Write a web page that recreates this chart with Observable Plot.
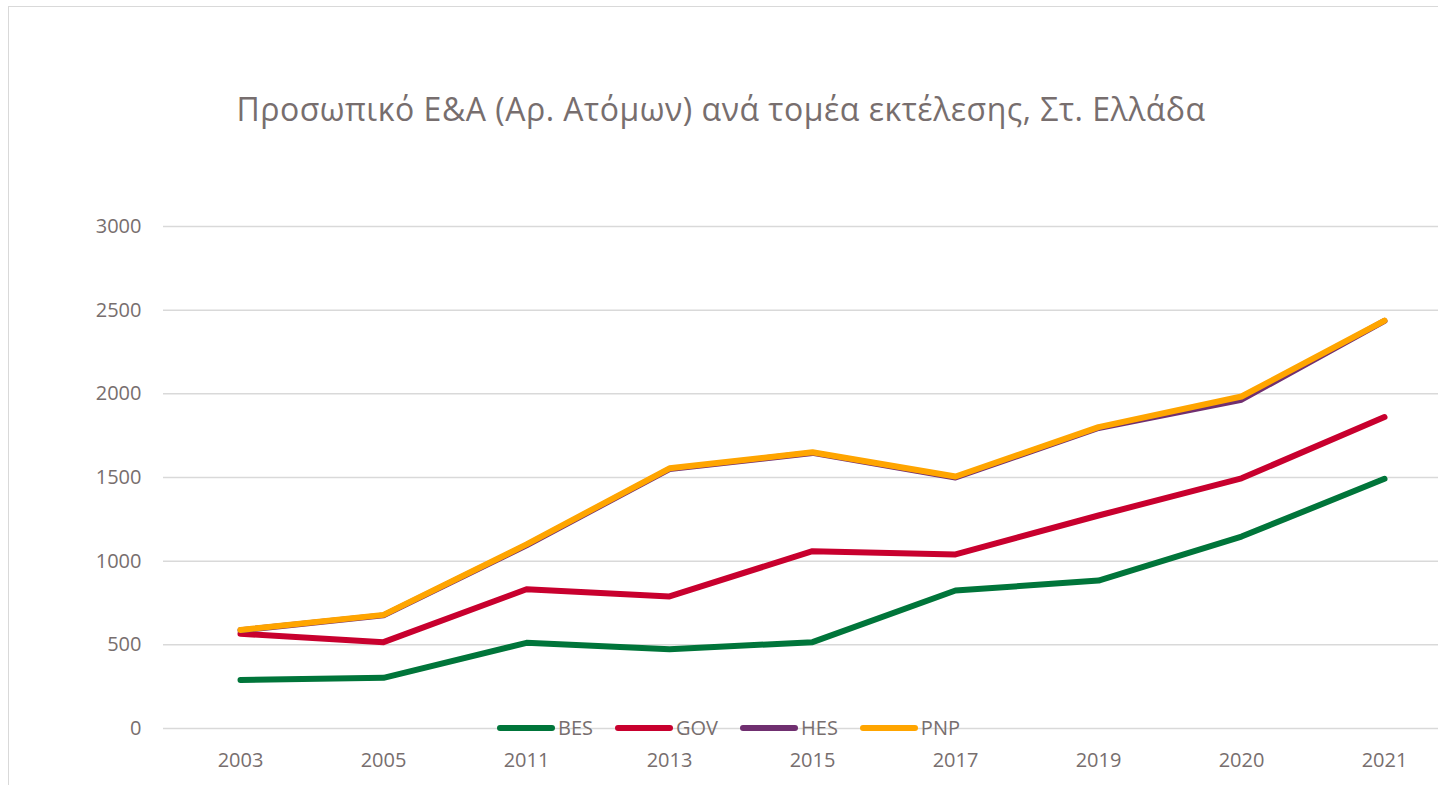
<!DOCTYPE html>
<html>
<head>
<meta charset="utf-8">
<script src="https://cdn.jsdelivr.net/npm/d3@7"></script>
<script src="https://cdn.jsdelivr.net/npm/@observablehq/plot@0.6"></script>
<style>
  html, body { margin: 0; padding: 0; background: #fff; overflow: hidden; width: 1438px; height: 785px; }
  body { position: relative; font-family: "Open Sans", sans-serif; color: #776e6e; }
  #frame { position: absolute; left: 8px; top: 6px; width: 1600px; height: 900px; border: 1px solid #d9d9d9; box-sizing: border-box; }
  #title { position: absolute; left: 0; width: 1442px; top: 93px; text-align: center; font-size: 32px; line-height: 32px; letter-spacing: 0.5px; white-space: nowrap; }
  #chart { position: absolute; left: 0; top: 0; width: 1470px; }
  #chart svg { max-width: none !important; width: 1470px; height: 785px; }
  #legend { position: absolute; left: 497px; top: 714px; display: flex; align-items: center; gap: 22px; font-size: 20px; line-height: 28px; }
  .item { display: flex; align-items: center; gap: 3px; }
  .item svg { display: block; }
</style>
</head>
<body>
<div id="frame"></div>
<div id="title">Προσωπικό Ε&amp;Α (Αρ. Ατόμων) ανά τομέα εκτέλεσης, Στ. Ελλάδα</div>
<div id="chart"></div>
<div id="legend"></div>
<script>
// Years on the category axis
const years = ["2003", "2005", "2011", "2013", "2015", "2017", "2019", "2020", "2021"];
// Series, one per sector
const BES = [290, 303, 512, 474, 516, 825, 884, 1147, 1492];
const GOV = [566, 516, 832, 789, 1060, 1040, 1273, 1495, 1861];
const HES = [587, 676, 1095, 1550, 1647, 1500, 1796, 1965, 2436];
const PNP = [589, 679, 1100, 1555, 1651, 1506, 1801, 1984, 2438];
const seriesNames = ["BES", "GOV", "HES", "PNP"];
const seriesColors = ["#00753a", "#c8002e", "#702f70", "#ffa500"];
const yTicks = [0, 500, 1000, 1500, 2000, 2500, 3000];

const seriesValues = {BES, GOV, HES, PNP};
const rows = seriesNames.flatMap(name =>
  years.map((year, i) => ({series: name, year, value: seriesValues[name][i]}))
);

const textColor = "#776e6e";

const chart = Plot.plot({
  width: 1470,
  height: 785,
  marginTop: 226,
  marginBottom: 57,
  marginLeft: 165,
  marginRight: 11,
  style: {fontFamily: "'Open Sans', sans-serif", fontSize: "20px", color: textColor, background: "transparent", maxWidth: "none"},
  x: {type: "point", domain: years, padding: 0.5, label: null},
  y: {domain: [0, 3000], label: null},
  color: {domain: seriesNames, range: seriesColors},
  marks: [
    Plot.ruleY(yTicks, {stroke: "#d9d9d9", strokeWidth: 1.5, insetLeft: -2}),
    Plot.axisY(yTicks, {tickSize: 0, tickPadding: 24, fill: textColor, label: null, tickFormat: d => String(d)}),
    Plot.axisX({tickSize: 0, tickPadding: 24, fill: textColor, label: null}),
    Plot.line(rows, {
      x: "year", y: "value", z: "series", stroke: "series",
      strokeWidth: 6, strokeLinecap: "round", strokeLinejoin: "round"
    })
  ]
});
document.getElementById("chart").appendChild(chart);

// Legend with line swatches
const legend = d3.select("#legend");
seriesNames.forEach((name, i) => {
  const item = legend.append("div").attr("class", "item");
  const sw = item.append("svg").attr("width", 58).attr("height", 10);
  sw.append("line")
    .attr("x1", 3).attr("x2", 55).attr("y1", 5).attr("y2", 5)
    .attr("stroke", seriesColors[i]).attr("stroke-width", 6).attr("stroke-linecap", "round");
  item.append("span").text(name);
});
</script>
</body>
</html>
